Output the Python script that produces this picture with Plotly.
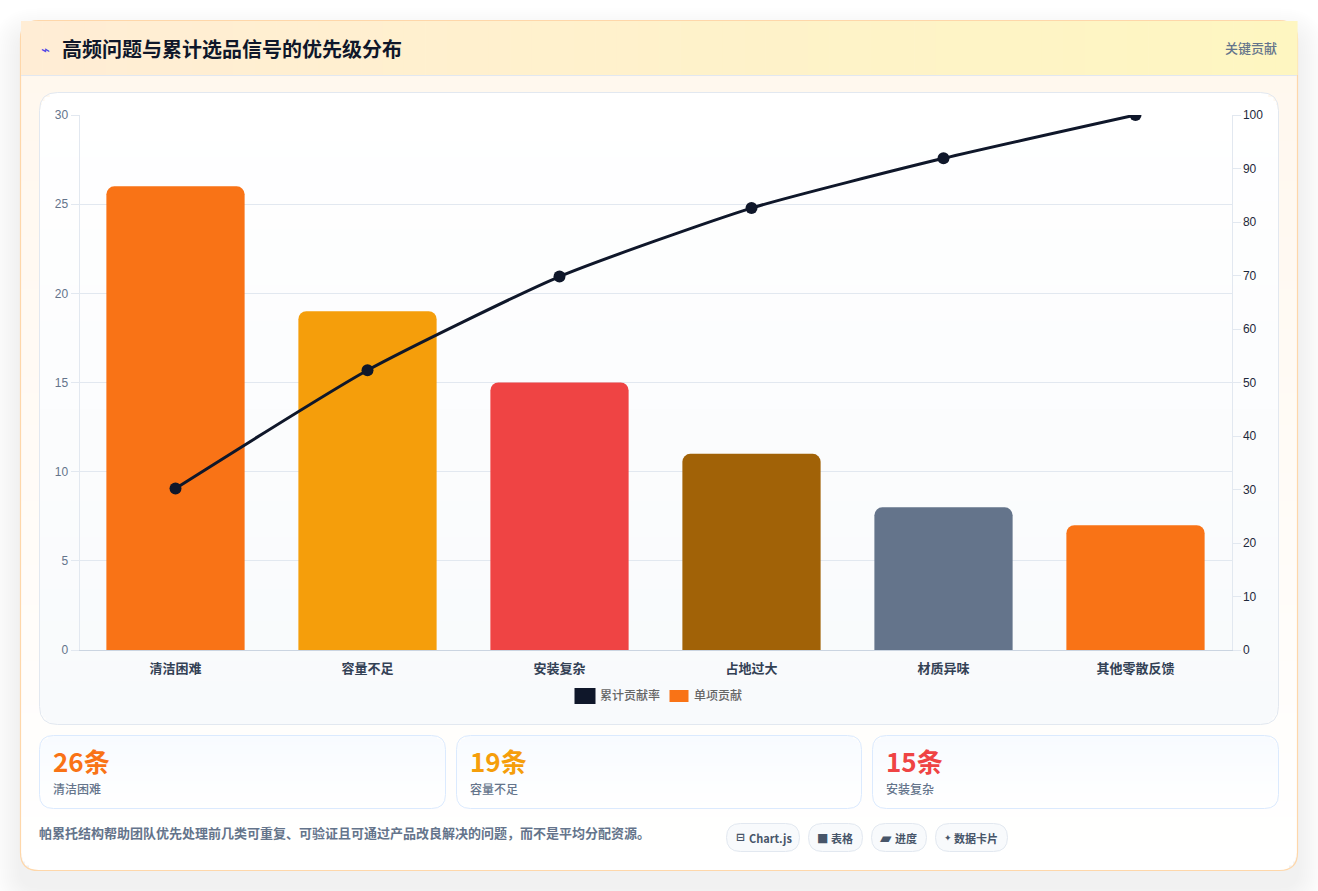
import plotly.graph_objects as go

W, H = 1318, 891
categories = ["清洁困难", "容量不足", "安装复杂", "占地过大", "材质异味", "其他零散反馈"]
contribution = [26, 19, 15, 11, 8, 7]
cumulative = [30.2, 52.3, 69.8, 82.6, 91.9, 100]
bar_colors = ["#f97316", "#f59e0b", "#ef4444", "#a16207", "#64748b", "#f97316"]
line_name = "累计贡献率"
bar_name = "单项贡献"
title = "高频问题与累计选品信号的优先级分布"
badge = "关键贡献"
stat_values = ["26条", "19条", "15条"]
stat_labels = ["清洁困难", "容量不足", "安装复杂"]
stat_colors = ["#f97316", "#f59e0b", "#ef4444"]
note = "帕累托结构帮助团队优先处理前几类可重复、可验证且可通过产品改良解决的问题，而不是平均分配资源。"
chip_icons = ["⊟", "■", "▰", "✦"]
chip_labels = ["Chart.js", "表格", "进度", "数据卡片"]

CJK = "Noto Sans CJK SC"
LAT = "Liberation Sans"


def px(x):
    return x / W


def py(y):
    return 1 - y / H


def rr_path(x0, y0, x1, y1, r):
    a, b, c, d = px(x0), py(y0), px(x1), py(y1)
    rx, ry = r / W, r / H
    return (f"M{a+rx},{b} L{c-rx},{b} Q{c},{b} {c},{b-ry} L{c},{d+ry} Q{c},{d} {c-rx},{d} "
            f"L{a+rx},{d} Q{a},{d} {a},{d+ry} L{a},{b-ry} Q{a},{b} {a+rx},{b} Z")


def rr(x0, y0, x1, y1, r, fill="rgba(0,0,0,0)", line="rgba(0,0,0,0)", lw=1):
    return dict(type="path", xref="paper", yref="paper", layer="below", path=rr_path(x0, y0, x1, y1, r),
                fillcolor=fill, line=dict(color=line, width=lw))


def rect(x0, y0, x1, y1, fill):
    return dict(type="rect", xref="paper", yref="paper", layer="below", x0=px(x0), x1=px(x1), y0=py(y0), y1=py(y1),
                fillcolor=fill, line=dict(width=0))


def mix(c0, c1, t):
    return "rgb(%d,%d,%d)" % tuple(round(a + (b - a) * t) for a, b in zip(c0, c1))


def vgrad(x0, y0, x1, y1, r, c0, c1, step=3):
    out = []
    y = y0
    while y < y1:
        yn = min(y + step, y1)
        inset = 0
        if y - y0 < r:
            inset = r - (r * r - (r - (y - y0) - step / 2) ** 2) ** 0.5 if r else 0
        elif y1 - yn < r:
            inset = r - (r * r - (r - (y1 - yn) - step / 2) ** 2) ** 0.5 if r else 0
        out.append(rect(x0 + max(inset, 0), y, x1 - max(inset, 0), min(yn + 0.6, y1), mix(c0, c1, (y - y0) / (y1 - y0))))
        y = yn
    return out


shapes = []
# soft card shadow
for i in range(14):
    g = 28 - i * 2
    shapes.append(rr(20 - g, 20 + 16 - g, 1298 + g, 871 + 16 + g, 18 + g, fill="rgba(15,23,42,0.0042)"))

# card body
shapes += vgrad(21, 21, 1297, 870, 18, (255, 247, 237), (255, 255, 255), step=4)
shapes.append(rr(20.5, 20.5, 1297.5, 870.5, 18, line="#fed7aa", lw=1.2))

# header band
n = 60
for i in range(n):
    a = 21 + (1297 - 21) * i / n
    b = 21 + (1297 - 21) * (i + 1) / n
    shapes.append(rect(a, 21, b + 0.6, 75, mix((255, 237, 213), (254, 246, 193), i / (n - 1))))
shapes.append(rect(21, 75, 1297, 76, "#e2e8f0"))

# chart panel
shapes += vgrad(40, 93, 1278, 724, 18, (255, 255, 255), (248, 250, 252), step=4)
shapes.append(rr(39.5, 92.5, 1278.5, 724.5, 18, line="#e2e8f0"))

# stat cards
stat_x = [(39.5, 445.5), (456.5, 861.5), (872.5, 1278.5)]
for a, b in stat_x:
    shapes += vgrad(a + .5, 736, b - .5, 808, 14, (248, 251, 255), (255, 255, 255), step=3)
    shapes.append(rr(a, 735.5, b, 808.5, 14, line="#dbeafe"))

# chips
chip_x = [(726.5, 799.5), (808.5, 862.5), (871.5, 926.5), (935.5, 1007.5)]
for a, b in chip_x:
    shapes.append(rr(a, 823.5, b, 851.5, 14, fill="#f8fafc", line="#e2e8f0"))

# legend swatches
shapes.append(rect(574.5, 688, 595.5, 704, "#0f172a"))
shapes.append(rect(669.5, 690, 688.5, 702, "#f97316"))

ann = []


def text(x, y, s, size, color, font=CJK, anchor="left", weight=400):
    ann.append(dict(xref="paper", yref="paper", x=px(x), y=py(y), text=s, showarrow=False,
                    xanchor=anchor, yanchor="middle", font=dict(size=size, color=color, family=font, weight=weight),
                    borderpad=0, borderwidth=0))


text(41, 49, "⌁", 15, "#4f46e5")
text(62, 48.5, title, 20, "#0f172a", weight=700)
text(1277, 47.5, badge, 13, "#64748b", anchor="right", weight=500)
text(600, 694, line_name, 12, "#666666", weight=500)
text(694, 694, bar_name, 12, "#666666", weight=500)
for (a, _), v, l, c in zip(stat_x, stat_values, stat_labels, stat_colors):
    text(a + 13.5, 760.5, v, 26, c, weight=700)
    text(a + 13.5, 788, l, 12, "#64748b", weight=500)
text(39, 832.5, note, 13, "#64748b", weight=600)
icon_x = [735.5, 817, 879.5, 944]
icon_size = [11, 12, 15, 9]
label_x = [749, 831, 895, 954]
label_size = [11, 11, 11, 11]
for ix, s, fs in zip(icon_x, chip_icons, icon_size):
    text(ix, 837.5, s, fs, "#475569", font="DejaVu Sans", weight=700)
for lx, s, fs in zip(label_x, chip_labels, label_size):
    text(lx, 837.5, s, fs, "#475569", weight=700)

fig = go.Figure()
fig.add_bar(x=categories, y=contribution, name=bar_name, marker=dict(color=bar_colors, line=dict(width=0), cornerradius=8),
            width=0.72, yaxis="y")
fig.add_scatter(x=categories, y=cumulative, name=line_name, mode="lines+markers", yaxis="y2",
                line=dict(color="#0f172a", width=3, shape="spline", smoothing=0.55),
                marker=dict(color="#0f172a", size=12))

fig.update_layout(
    width=W, height=H, margin=dict(l=0, r=0, t=0, b=0, autoexpand=False),
    paper_bgcolor="#ffffff", plot_bgcolor="rgba(0,0,0,0)", showlegend=False, shapes=shapes, annotations=ann,
    font=dict(family=LAT),
    xaxis=dict(domain=[px(79.5), px(1231.5)], anchor="y", showgrid=False, showline=True, linecolor="#cbd5e1", linewidth=1,
               ticks="", tickfont=dict(size=13, color="#334155", family=CJK, weight=600), ticklabelstandoff=6,
               automargin=False),
    yaxis=dict(domain=[py(650), py(115)], range=[0, 30], dtick=5, showgrid=True, gridcolor="#e2e8f0", gridwidth=1,
               zeroline=False, showline=True, linecolor="#e2e8f0", ticks="outside", ticklen=8, tickcolor="#e2e8f0",
               tickfont=dict(size=12, color="#64748b"), automargin=False),
    yaxis2=dict(domain=[py(650), py(115)], range=[0, 100], dtick=10, overlaying="y", side="right", anchor="x",
                showgrid=False, zeroline=False, showline=True, linecolor="#e2e8f0", ticks="outside", ticklen=8,
                tickcolor="#e2e8f0", tickfont=dict(size=12, color="#1e293b"), automargin=False),
)
fig.write_html("out.html", config=dict(displayModeBar=False),
               post_script="document.body.style.margin='0';document.documentElement.style.overflow='hidden';")
